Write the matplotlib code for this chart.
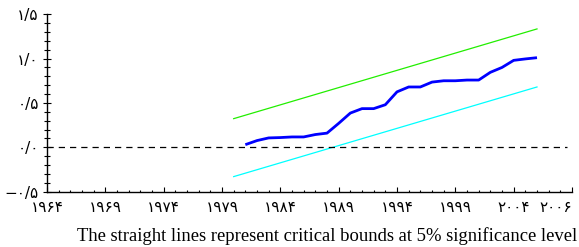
import matplotlib
matplotlib.use("Agg")
import matplotlib.pyplot as plt
from matplotlib.ticker import MultipleLocator

# CUSUM of squares path
years = [1981, 1982, 1983, 1984, 1985, 1986, 1987, 1988, 1989, 1990, 1991,
         1992, 1993, 1994, 1995, 1996, 1997, 1998, 1999, 2000, 2001, 2002,
         2003, 2004, 2005, 2006]
cusumsq = [0.03, 0.076, 0.106, 0.11, 0.117, 0.117, 0.144, 0.16, 0.27, 0.386,
           0.436, 0.436, 0.48, 0.625, 0.68, 0.68, 0.735, 0.75, 0.75, 0.758,
           0.758, 0.845, 0.90, 0.98, 0.996, 1.01]

# 5% critical bounds (straight lines)
bound_years = [1980, 2006]
upper = [0.323, 1.334]
lower = [-0.33, 0.68]

xtick_pos = [1964, 1969, 1974, 1979, 1984, 1989, 1994, 1999, 2004, 2009]
xtick_labels = ["۱۹۶۴", "۱۹۶۹", "۱۹۷۴", "۱۹۷۹", "۱۹۸۴", "۱۹۸۹", "۱۹۹۴",
                "۱۹۹۹", "۲۰۰۴", "۲۰۰۶"]
ytick_pos = [-0.5, 0.0, 0.5, 1.0, 1.5]
ytick_labels = ["−۰/۵", "۰/۰", "۰/۵", "۱/۰", "۱/۵"]

fig = plt.figure(figsize=(5.79, 2.47), dpi=100)
ax = fig.add_axes([47 / 579, 55.3 / 247, 525 / 579, 177.5 / 247])

ax.plot(bound_years, upper, color="#22ee00", lw=0.9)
ax.plot(bound_years, lower, color="#00ffff", lw=0.9)
ax.plot(years, cusumsq, color="#0000ff", lw=2.0, solid_capstyle="butt")
ax.axhline(0, xmin=0, xmax=(2008.6 - 1964) / 45, color="black", lw=0.9,
           dashes=(5, 4))

ax.set_xlim(1964, 2009)
ax.set_ylim(-0.5, 1.5)

ax.set_xticks(xtick_pos)
ax.set_xticklabels(xtick_labels, family="DejaVu Sans", fontsize=11)
ax.xaxis.set_minor_locator(MultipleLocator(1))
ax.set_yticks(ytick_pos)
ax.set_yticklabels(ytick_labels, family="DejaVu Sans", fontsize=11)
ax.yaxis.set_minor_locator(MultipleLocator(0.1))
ax.get_xticklabels()[-1].set_horizontalalignment("right")

ax.tick_params(axis="x", which="major", direction="in", length=3.5, width=0.8, pad=6)
ax.tick_params(axis="x", which="minor", direction="in", length=1.8, width=0.8)
ax.tick_params(axis="y", which="major", direction="inout", length=6, width=0.8, pad=3)
ax.tick_params(axis="y", which="minor", direction="inout", length=4, width=0.8)

for s in ["top", "right"]:
    ax.spines[s].set_visible(False)
for s in ["left", "bottom"]:
    ax.spines[s].set_linewidth(1.0)

fig.text(577 / 579, 11 / 247,
         "The straight lines represent critical bounds at 5% significance level",
         ha="right", va="center", family="Liberation Serif", fontsize=13.4)

plt.savefig("out.png", dpi=100)
plt.close()
